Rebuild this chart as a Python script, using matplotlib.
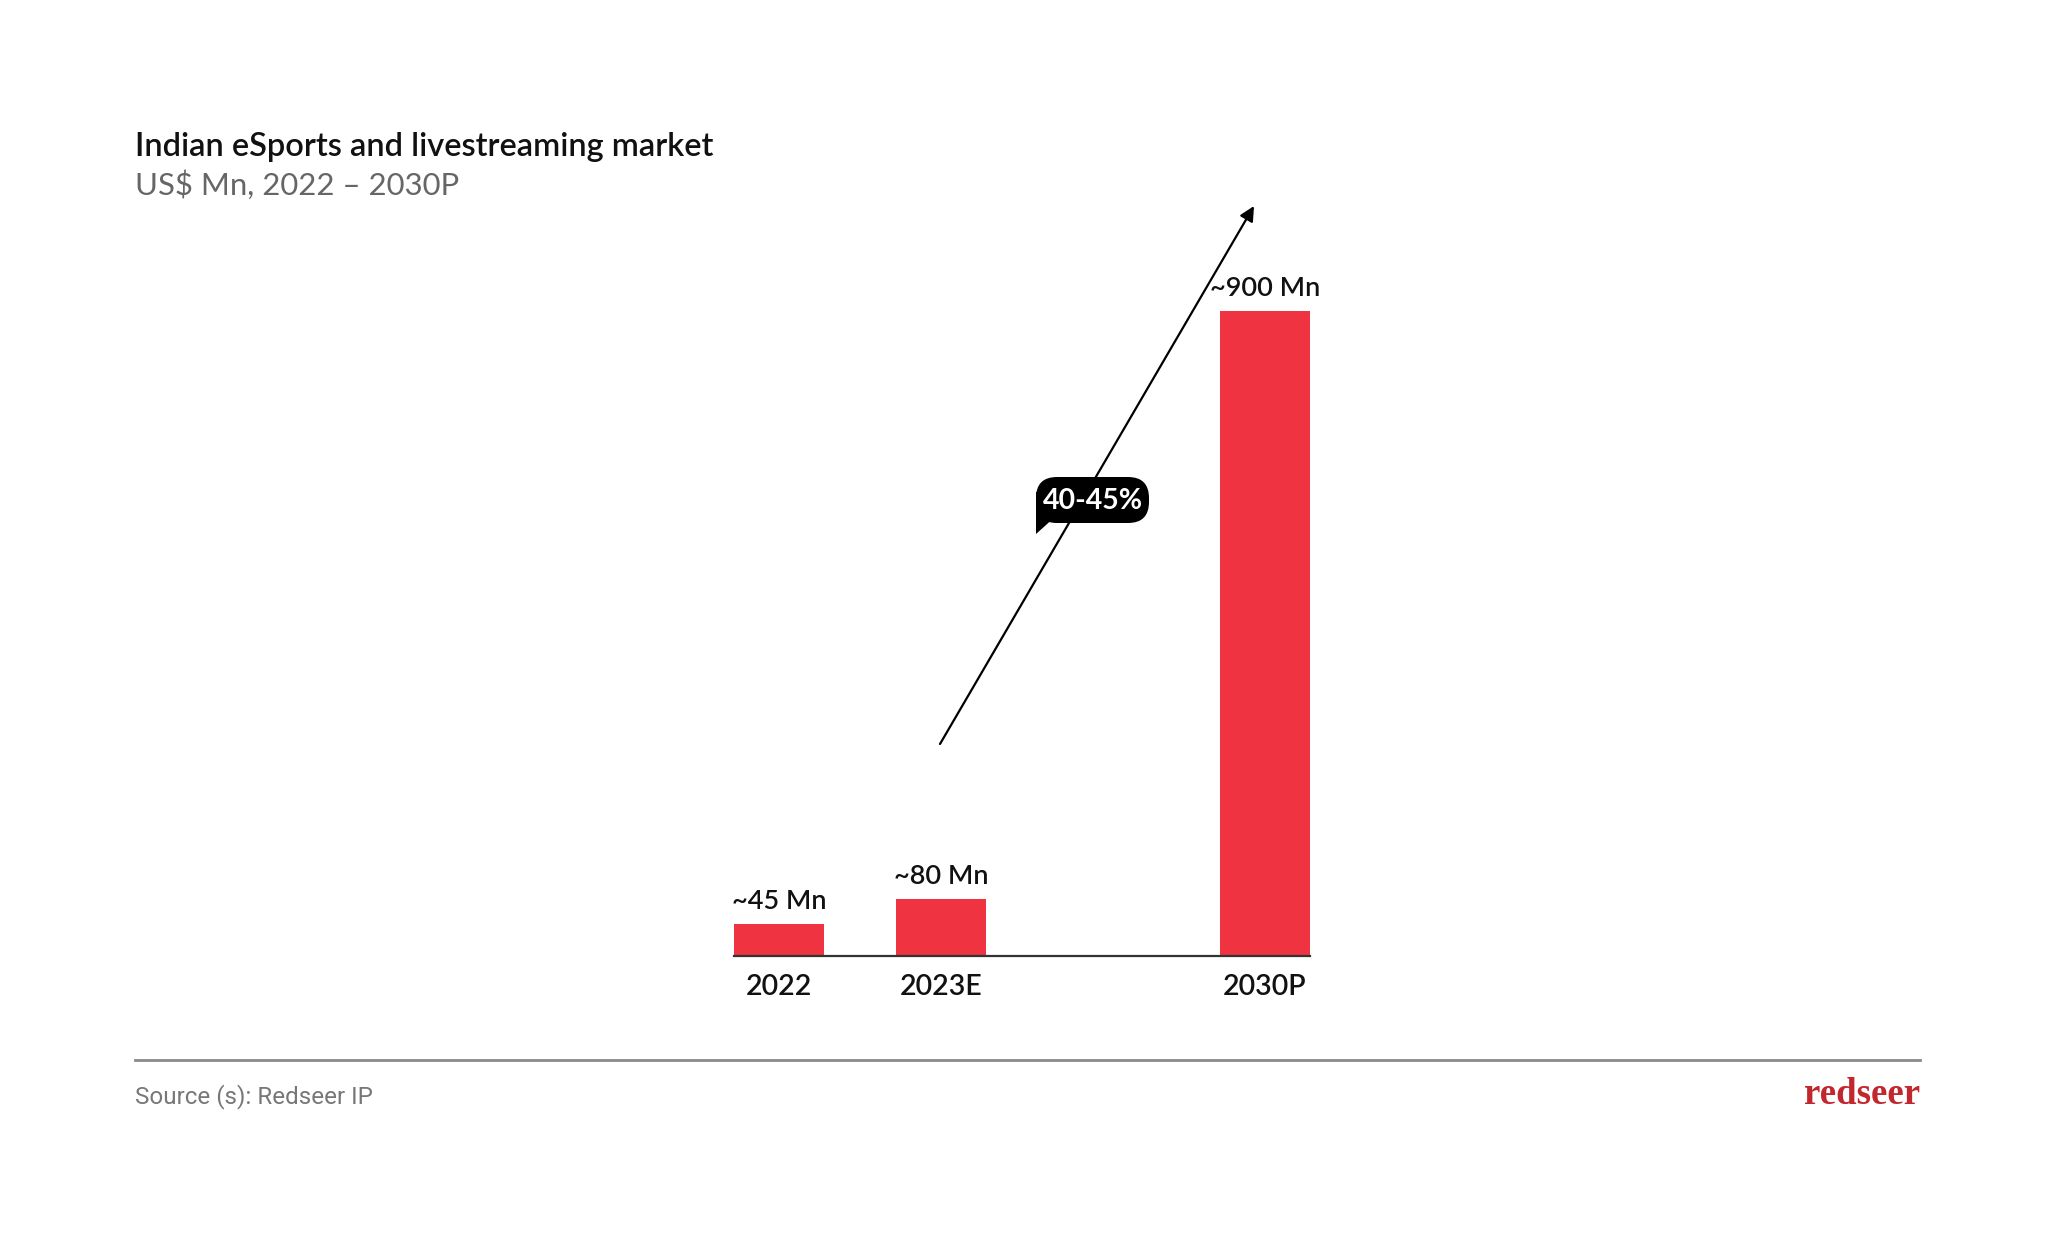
import matplotlib
matplotlib.use('Agg')
import matplotlib.pyplot as plt
from matplotlib.patches import FancyBboxPatch, Polygon

# ---- data ----
categories = ['2022', '2023E', '2030P']
positions = [0, 1, 3]
values = [45, 80, 900]
value_labels = ['~45 Mn', '~80 Mn', '~900 Mn']
cagr_label = '40-45%'
title = 'Indian eSports and livestreaming market'
subtitle = 'US$ Mn, 2022 \u2013 2030P'
source = 'Source (s): Redseer IP'
logo = 'redseer'

FONT = ['Lato', 'DejaVu Sans']
BAR_COLOR = '#EF3340'

W, H = 2048, 1241
fig = plt.figure(figsize=(W / 100, H / 100), dpi=100)
fig.patch.set_facecolor('white')

def fx(x):
    return x / W

def fy(y):
    return 1 - y / H

bar_w = 0.555
left_px, right_px = 734, 1310
base_px, top900_px = 956, 311
ymax = 1000
axes_h_px = (base_px - top900_px) * ymax / 900
ax = fig.add_axes([fx(left_px), fy(base_px), (right_px - left_px) / W, axes_h_px / H])
ax.set_xlim(-bar_w / 2, 3 + bar_w / 2)
ax.set_ylim(0, ymax)
ax.bar(positions, values, width=bar_w, color=BAR_COLOR, zorder=2)
for s in ['top', 'right', 'left']:
    ax.spines[s].set_visible(False)
ax.spines['bottom'].set_color('#333333')
ax.spines['bottom'].set_linewidth(1.6)
ax.spines['bottom'].set_zorder(3)
ax.set_yticks([])
ax.set_xticks(positions)
ax.set_xticklabels(categories, fontfamily=FONT, fontsize=20.5, fontweight='semibold', color='#111111')
ax.tick_params(axis='x', length=0, pad=13)
ax.patch.set_alpha(0)

for p, v, lab in zip(positions, values, value_labels):
    ax.annotate(lab, xy=(p, v), xytext=(0, 10.5), textcoords='offset points',
                ha='center', va='baseline', fontsize=19.5, fontfamily=FONT,
                fontweight='semibold', color='#111111', annotation_clip=False)

# overlay in pixel coordinates for decorations
ov = fig.add_axes([0, 0, 1, 1], zorder=5)
ov.set_xlim(0, W)
ov.set_ylim(H, 0)
ov.axis('off')
ov.patch.set_alpha(0)

ov.text(135, 147, title, ha='left', va='center', fontsize=23.4, fontfamily=FONT,
        fontweight='semibold', color='#111111')
ov.text(135, 185, subtitle, ha='left', va='center', fontsize=22.4, fontfamily=FONT,
        fontweight='normal', color='#666666')

# growth arrow
ov.annotate('', xy=(1254, 206), xytext=(940, 744),
            arrowprops=dict(arrowstyle='-|>', color='black', lw=1.6, mutation_scale=22,
                            shrinkA=0, shrinkB=0), zorder=4)

# speech bubble
bub = FancyBboxPatch((1036, 477), 113, 46, boxstyle='round,pad=0,rounding_size=21',
                     facecolor='black', edgecolor='none', zorder=6)
ov.add_patch(bub)
tail = Polygon([(1036, 492), (1036, 534), (1056, 516), (1056, 492)], closed=True,
               facecolor='black', edgecolor='none', zorder=6)
ov.add_patch(tail)
ov.text(1093, 501, cagr_label, ha='center', va='center', fontsize=20.5, fontfamily=FONT,
        fontweight='bold', color='white', zorder=7)

# footer
ov.plot([135, 1920], [1060, 1060], color='#8a8a8a', lw=2)
ov.text(135, 1097, source, ha='left', va='center', fontsize=17.4,
        fontfamily=['Roboto', 'DejaVu Sans'], fontweight='normal', color='#777777')
ov.text(1920, 1094, logo, ha='right', va='center', fontsize=26.5,
        fontfamily=['Liberation Serif', 'DejaVu Serif'], fontweight='bold', color='#C1272D')

fig.savefig('out.png', dpi=100, facecolor='white')
